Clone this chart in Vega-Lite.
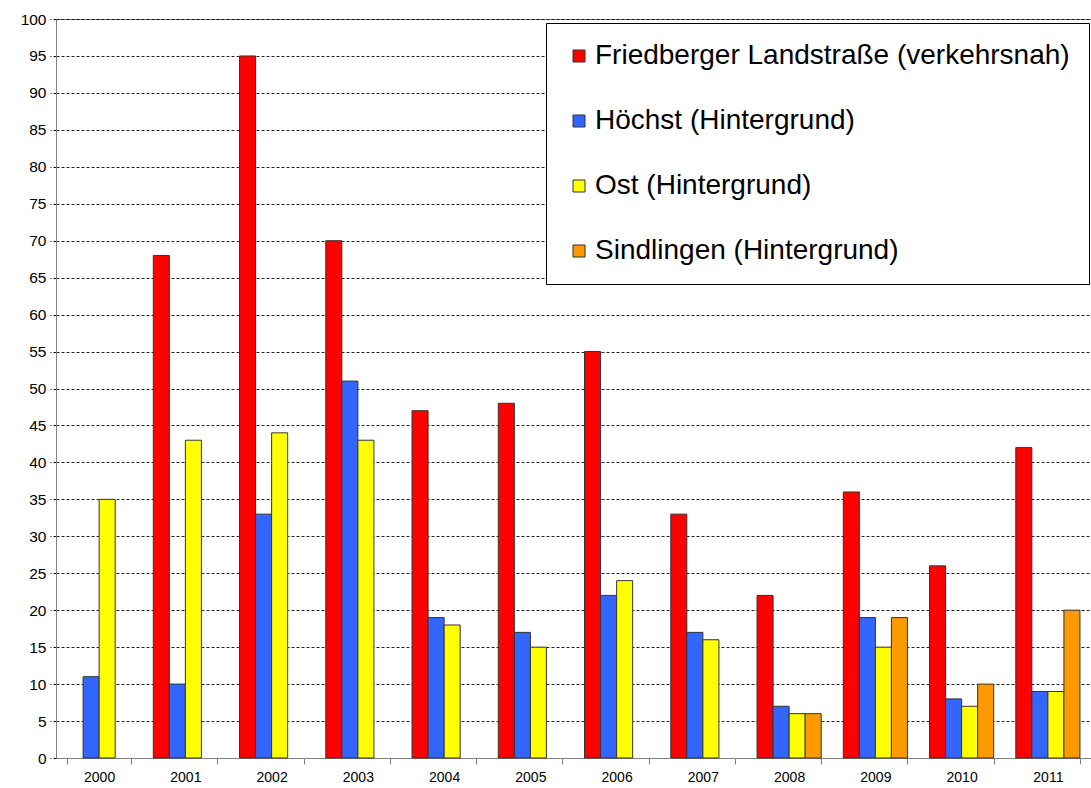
{
  "$schema": "https://vega.github.io/schema/vega-lite/v6.json",
  "width": 1035,
  "height": 739,
  "autosize": "none",
  "padding": {"left": 56, "top": 19, "right": 0, "bottom": 30},
  "background": "white",
  "config": {
    "font": "Liberation Sans",
    "view": {"stroke": "#808080", "strokeWidth": 1}
  },
  "data": {
    "values": [
      {"Jahr": "2000", "Station": "Höchst (Hintergrund)", "Wert": 11},
      {"Jahr": "2000", "Station": "Ost (Hintergrund)", "Wert": 35},
      {"Jahr": "2001", "Station": "Friedberger Landstraße (verkehrsnah)", "Wert": 68},
      {"Jahr": "2001", "Station": "Höchst (Hintergrund)", "Wert": 10},
      {"Jahr": "2001", "Station": "Ost (Hintergrund)", "Wert": 43},
      {"Jahr": "2002", "Station": "Friedberger Landstraße (verkehrsnah)", "Wert": 95},
      {"Jahr": "2002", "Station": "Höchst (Hintergrund)", "Wert": 33},
      {"Jahr": "2002", "Station": "Ost (Hintergrund)", "Wert": 44},
      {"Jahr": "2003", "Station": "Friedberger Landstraße (verkehrsnah)", "Wert": 70},
      {"Jahr": "2003", "Station": "Höchst (Hintergrund)", "Wert": 51},
      {"Jahr": "2003", "Station": "Ost (Hintergrund)", "Wert": 43},
      {"Jahr": "2004", "Station": "Friedberger Landstraße (verkehrsnah)", "Wert": 47},
      {"Jahr": "2004", "Station": "Höchst (Hintergrund)", "Wert": 19},
      {"Jahr": "2004", "Station": "Ost (Hintergrund)", "Wert": 18},
      {"Jahr": "2005", "Station": "Friedberger Landstraße (verkehrsnah)", "Wert": 48},
      {"Jahr": "2005", "Station": "Höchst (Hintergrund)", "Wert": 17},
      {"Jahr": "2005", "Station": "Ost (Hintergrund)", "Wert": 15},
      {"Jahr": "2006", "Station": "Friedberger Landstraße (verkehrsnah)", "Wert": 55},
      {"Jahr": "2006", "Station": "Höchst (Hintergrund)", "Wert": 22},
      {"Jahr": "2006", "Station": "Ost (Hintergrund)", "Wert": 24},
      {"Jahr": "2007", "Station": "Friedberger Landstraße (verkehrsnah)", "Wert": 33},
      {"Jahr": "2007", "Station": "Höchst (Hintergrund)", "Wert": 17},
      {"Jahr": "2007", "Station": "Ost (Hintergrund)", "Wert": 16},
      {"Jahr": "2008", "Station": "Friedberger Landstraße (verkehrsnah)", "Wert": 22},
      {"Jahr": "2008", "Station": "Höchst (Hintergrund)", "Wert": 7},
      {"Jahr": "2008", "Station": "Ost (Hintergrund)", "Wert": 6},
      {"Jahr": "2008", "Station": "Sindlingen (Hintergrund)", "Wert": 6},
      {"Jahr": "2009", "Station": "Friedberger Landstraße (verkehrsnah)", "Wert": 36},
      {"Jahr": "2009", "Station": "Höchst (Hintergrund)", "Wert": 19},
      {"Jahr": "2009", "Station": "Ost (Hintergrund)", "Wert": 15},
      {"Jahr": "2009", "Station": "Sindlingen (Hintergrund)", "Wert": 19},
      {"Jahr": "2010", "Station": "Friedberger Landstraße (verkehrsnah)", "Wert": 26},
      {"Jahr": "2010", "Station": "Höchst (Hintergrund)", "Wert": 8},
      {"Jahr": "2010", "Station": "Ost (Hintergrund)", "Wert": 7},
      {"Jahr": "2010", "Station": "Sindlingen (Hintergrund)", "Wert": 10},
      {"Jahr": "2011", "Station": "Friedberger Landstraße (verkehrsnah)", "Wert": 42},
      {"Jahr": "2011", "Station": "Höchst (Hintergrund)", "Wert": 9},
      {"Jahr": "2011", "Station": "Ost (Hintergrund)", "Wert": 9},
      {"Jahr": "2011", "Station": "Sindlingen (Hintergrund)", "Wert": 20}
    ]
  },
  "mark": {"type": "bar", "stroke": "#333333", "strokeWidth": 1},
  "encoding": {
    "x": {
      "field": "Jahr",
      "type": "nominal",
      "scale": {"paddingInner": 0.256, "paddingOuter": 0.128},
      "axis": {
        "title": null,
        "labelAngle": 0,
        "labelFontSize": 14,
        "labelColor": "#000000",
        "labelPadding": 6,
        "domainColor": "#808080",
        "tickColor": "#808080",
        "tickBand": "extent",
        "tickSize": 6,
        "grid": false
      }
    },
    "xOffset": {
      "field": "Station",
      "type": "nominal",
      "scale": {
        "domain": ["Friedberger Landstraße (verkehrsnah)", "Höchst (Hintergrund)", "Ost (Hintergrund)", "Sindlingen (Hintergrund)"],
        "paddingInner": 0,
        "paddingOuter": 0
      }
    },
    "y": {
      "field": "Wert",
      "type": "quantitative",
      "scale": {"domain": [0, 100], "nice": false},
      "axis": {
        "title": null,
        "values": [0, 5, 10, 15, 20, 25, 30, 35, 40, 45, 50, 55, 60, 65, 70, 75, 80, 85, 90, 95, 100],
        "labelFontSize": 15.5,
        "labelColor": "#000000",
        "labelPadding": 4,
        "domainColor": "#808080",
        "tickColor": "#000000",
        "tickSize": 6,
        "tickDash": [3, 2],
        "grid": true,
        "gridColor": "#000000",
        "gridDash": [3, 2],
        "gridOpacity": 0.85
      }
    },
    "color": {
      "field": "Station",
      "type": "nominal",
      "scale": {
        "domain": ["Friedberger Landstraße (verkehrsnah)", "Höchst (Hintergrund)", "Ost (Hintergrund)", "Sindlingen (Hintergrund)"],
        "range": ["#FF0000", "#3366FF", "#FFFF00", "#FF9900"]
      },
      "legend": {
        "title": null,
        "orient": "none",
        "legendX": 490,
        "legendY": 4,
        "fillColor": "white",
        "strokeColor": "#000000",
        "padding": 19,
        "symbolType": "square",
        "symbolSize": 144,
        "symbolStrokeColor": "#333333",
        "symbolStrokeWidth": 1,
        "labelFontSize": 28,
        "labelColor": "#000000",
        "labelOffset": 2,
        "labelLimit": 700,
        "rowPadding": 37
      }
    }
  }
}
